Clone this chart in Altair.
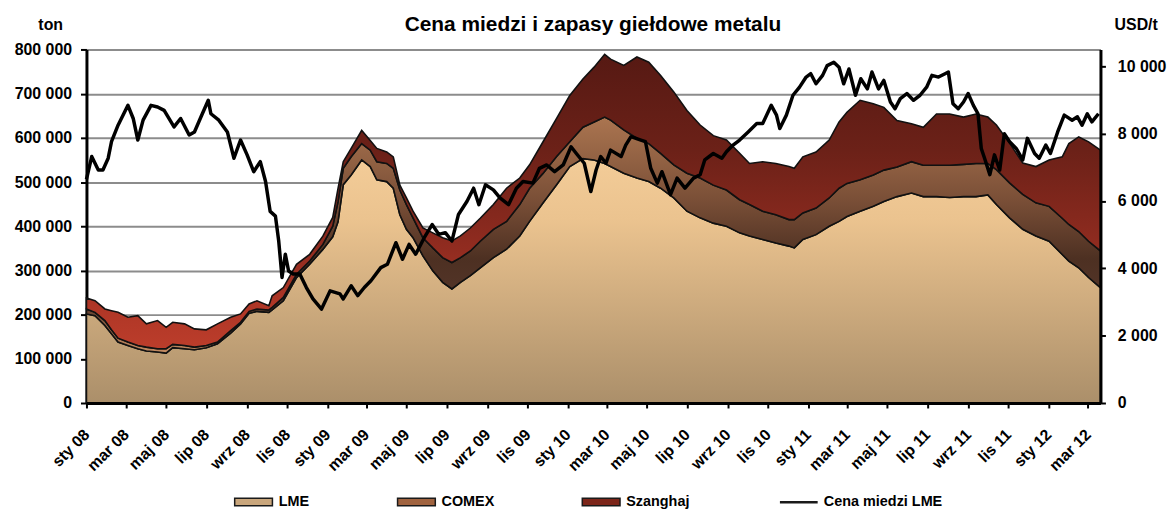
import altair as alt
import pandas as pd

FONT = "Liberation Sans"
START = pd.Timestamp("2008-01-01")

# ---- stocks (tonnes), x as days since 2008-01-01 ----
stock_days = [0, 13, 28, 38, 48, 63, 78, 91, 108, 121,
              131, 149, 164, 182, 199, 219, 234, 247, 259, 277,
              282, 299, 319, 339, 359, 374, 382, 390, 402, 418,
              431, 441, 456, 466, 476, 486, 496, 511, 526, 541,
              555, 568, 583, 598, 618, 638, 658, 673, 693, 714,
              734, 754, 771, 787, 796, 816, 836, 854, 872, 892,
              912, 932, 952, 972, 992, 1007, 1027, 1047, 1067, 1075,
              1088, 1108, 1128, 1143, 1155, 1175, 1195, 1211, 1231, 1253,
              1271, 1291, 1311, 1332, 1351, 1369, 1382, 1402, 1422, 1442,
              1462, 1482, 1492, 1507, 1522, 1540]
lme_stock = [201600, 197700, 175300, 156600, 137800, 130300, 122900, 117500, 115300, 113000,
             125200, 122900, 120600, 125200, 134100, 158000, 179100, 202900, 207400, 205200,
             210500, 231400, 283800, 313900, 347600, 376000, 410000, 494000, 516000, 550000,
             535000, 505000, 501000, 486000, 426000, 393000, 374000, 333000, 299000, 273000,
             258000, 273000, 288000, 306000, 329000, 348000, 378000, 411000, 452000, 494000,
             535000, 553000, 550000, 542000, 535000, 520000, 509000, 501000, 486000, 464000,
             434000, 419000, 407000, 400000, 385000, 378000, 370000, 362000, 355000, 351000,
             370000, 381000, 400000, 411000, 422000, 434000, 445000, 456000, 467000, 475000,
             467000, 467000, 465000, 467000, 467000, 471000, 449000, 419000, 393000, 378000,
             366000, 336000, 321000, 306000, 284000, 261000]
comex_stock = [11200, 7500, 11200, 9000, 8900, 7500, 7400, 9000, 7600, 9900,
               7400, 7400, 5900, 5100, 3700, 6000, 3600, 4500, 5400, 5300,
               5900, 7500, 7600, 7400, 11300, 24000, 45000, 37000, 41000, 37000,
               37000, 41000, 41000, 45000, 56000, 56000, 45000, 41000, 52000, 56000,
               60000, 56000, 56000, 60000, 64000, 63000, 71000, 75000, 67000, 64000,
               56000, 71000, 86000, 105000, 105000, 98000, 90000, 86000, 79000, 75000,
               86000, 90000, 86000, 82000, 75000, 71000, 64000, 64000, 60000, 64000,
               60000, 60000, 64000, 75000, 75000, 71000, 71000, 71000, 67000, 71000,
               71000, 71000, 73000, 73000, 75000, 71000, 79000, 79000, 79000, 75000,
               79000, 82000, 83000, 82000, 82000, 83000]
shfe_stock = [24700, 26200, 26300, 43400, 58500, 56200, 67400, 52600, 63600, 48500,
              50100, 48800, 41300, 35300, 41300, 30000, 18900, 16600, 18600, 9700,
              26300, 22400, 22500, 15100, 18600, 20000, 30000, 15000, 19000, 30000,
              22000, 30000, 26000, 26000, 11000, 15000, 15000, 22000, 34000, 45000,
              49000, 49000, 52000, 52000, 56000, 75000, 60000, 53000, 71000, 86000,
              105000, 109000, 124000, 142000, 138000, 146000, 184000, 184000, 176000, 165000,
              142000, 120000, 112000, 113000, 105000, 93000, 112000, 116000, 120000, 116000,
              127000, 127000, 131000, 150000, 161000, 180000, 161000, 142000, 105000, 86000,
              86000, 116000, 116000, 107000, 112000, 105000, 101000, 90000, 71000, 82000,
              105000, 139000, 183000, 214000, 225000, 228000]

# ---- LME copper price (USD/t) ----
price_days = [0, 8, 18, 25, 33, 38, 48, 63, 71, 78,
              86, 98, 108, 118, 133, 143, 156, 164, 174, 185,
              189, 201, 214, 224, 234, 244, 254, 264, 272, 279,
              287, 292, 297, 302, 307, 314, 324, 334, 344, 357,
              370, 385, 390, 402, 412, 422, 432, 447, 457, 470,
              480, 490, 500, 513, 525, 535, 545, 555, 565, 578,
              588, 596, 606, 618, 628, 641, 653, 663, 678, 688,
              699, 711, 724, 736, 744, 756, 766, 774, 781, 789,
              796, 812, 819, 827, 842, 849, 857, 867, 874, 887,
              897, 909, 922, 932, 939, 952, 965, 972, 982, 992,
              1005, 1018, 1027, 1040, 1048, 1053, 1063, 1073, 1083, 1093,
              1100, 1108, 1118, 1125, 1135, 1143, 1150, 1158, 1168, 1176,
              1186, 1193, 1203, 1211, 1221, 1228, 1236, 1246, 1256, 1266,
              1276, 1284, 1294, 1304, 1309, 1316, 1324, 1332, 1339, 1347,
              1354, 1359, 1364, 1372, 1379, 1387, 1394, 1402, 1412, 1422,
              1429, 1440, 1447, 1457, 1464, 1475, 1485, 1497, 1505, 1512,
              1520, 1527, 1537]
price_usd = [6640, 7320, 6920, 6920, 7270, 7760, 8250, 8840, 8450, 7810,
             8400, 8840, 8790, 8690, 8200, 8450, 7960, 8050, 8500, 8990,
             8590, 8400, 8050, 7270, 7810, 7370, 6870, 7170, 6580, 5690,
             5550, 4810, 3730, 4420, 3920, 3830, 3830, 3430, 3090, 2790,
             3330, 3240, 3090, 3480, 3190, 3430, 3630, 4020, 4120, 4760,
             4270, 4710, 4420, 4910, 5300, 5010, 5060, 4810, 5600, 5990,
             6380, 5890, 6480, 6330, 6090, 5890, 6380, 6580, 6530, 6970,
             7070, 6870, 7070, 7610, 7410, 7120, 6280, 6920, 7320, 7120,
             7510, 7320, 7660, 7910, 7810, 7760, 6970, 6530, 6870, 6190,
             6680, 6380, 6680, 6780, 7220, 7410, 7270, 7460, 7660, 7810,
             8050, 8300, 8300, 8840, 8550, 8150, 8550, 9140, 9380, 9680,
             9780, 9480, 9730, 10020, 10120, 9970, 9480, 9920, 9140, 9630,
             9330, 9830, 9330, 9580, 8940, 8740, 9040, 9190, 8990, 9140,
             9380, 9730, 9680, 9780, 9830, 8890, 8740, 8940, 9190, 8840,
             8590, 7560, 7270, 6780, 7370, 6920, 8000, 7760, 7560, 7220,
             7860, 7410, 7270, 7660, 7410, 8050, 8550, 8400, 8500, 8250,
             8590, 8350, 8590]

series_names = ["LME", "COMEX", "Szanghaj", "Cena miedzi LME"]
legend_colors = ["#c9a67c", "#a0633f", "#7c2519", "#000000"]
month_abbr = ["sty", "lut", "mar", "kwi", "maj", "cze", "lip", "sie", "wrz", "paź", "lis", "gru"]
left_ticks = [0, 100000, 200000, 300000, 400000, 500000, 600000, 700000, 800000]
right_ticks = [0, 2000, 4000, 6000, 8000, 10000]

# ---- tables ----
stocks = pd.DataFrame({
    "date": START + pd.to_timedelta(stock_days, unit="D"),
    "lme": lme_stock, "comex": comex_stock, "shfe": shfe_stock,
})
stocks["zero"] = 0
stocks["lme_top"] = stocks["lme"]
stocks["comex_top"] = stocks["lme"] + stocks["comex"]
stocks["total"] = stocks["comex_top"] + stocks["shfe"]

prices = pd.DataFrame({"date": START + pd.to_timedelta(price_days, unit="D"), "price": price_usd})
legend_df = pd.DataFrame({"series": series_names, "date": [START] * 4, "v": [0] * 4})
one = pd.DataFrame({"a": [0]})

# ---- axes / scales ----
AX = 16
month_js = "[" + ",".join("'%s'" % m for m in month_abbr) + "]"
x_label_expr = month_js + "[month(datum.value)] + ' ' + timeFormat(datum.value, '%y')"
num_label_expr = "datum.value == 0 ? '0' : format(floor(datum.value / 1000), 'd') + ' 000'"

x_tick_vals = [alt.DateTime(year=2008 + m // 12, month=m % 12 + 1, date=1) for m in range(0, 51, 2)]
x_scale = alt.Scale(domain=[alt.DateTime(year=2008, month=1, date=1),
                            alt.DateTime(year=2012, month=3, date=20)], nice=False)
x_axis = alt.Axis(values=x_tick_vals, labelExpr=x_label_expr, labelAngle=-45,
                  labelAlign="right", labelBaseline="middle", labelPadding=24,
                  labelFlush=False, labelOverlap=False, labelBound=False,
                  tickSize=5, tickWidth=2, tickColor="black",
                  domainColor="black", domainWidth=3, grid=False, zindex=2,
                  labelFont=FONT, labelFontSize=AX, labelFontWeight="bold",
                  labelColor="black", title=None)
x_enc = alt.X("date:T", scale=x_scale, axis=x_axis, title=None)

y_scale = alt.Scale(domain=[0, 800000], nice=False)
y_axis = alt.Axis(values=left_ticks, labelExpr=num_label_expr, grid=True,
                  gridColor="#8c8c8c", gridWidth=2, tickSize=6, tickWidth=2,
                  tickColor="black", domainColor="black", domainWidth=3,
                  labelFont=FONT, labelFontSize=AX, labelFontWeight="bold",
                  labelColor="black", labelPadding=9, title=None)

p_scale = alt.Scale(domain=[0, 10500], nice=False)
p_axis = alt.Axis(orient="right", values=right_ticks, labelExpr=num_label_expr,
                  grid=False, tickSize=5, tickWidth=2, tickColor="black",
                  domainColor="black", domainWidth=3, zindex=2,
                  labelFont=FONT, labelFontSize=AX, labelFontWeight="bold",
                  labelColor="black", labelPadding=12, title=None)


def grad(stops):
    return alt.LinearGradient(gradient="linear", x1=0, x2=0, y1=0, y2=1,
                              stops=[alt.GradientStop(color=c, offset=o) for o, c in stops])


lme_fill = grad([(0, "#f3cc98"), (0.25, "#ebc38f"), (1, "#ab8f6a")])
comex_fill = grad([(0, "#ab7550"), (0.35, "#7a4f37"), (0.6, "#4d3022"),
                   (0.8, "#55362a"), (0.9, "#9a6a48"), (1, "#c48c63")])
shfe_fill = grad([(0, "#561913"), (0.33, "#6c2118"), (0.67, "#922c20"),
                  (0.85, "#ae3626"), (1, "#bc3d2b")])

base = alt.Chart(stocks)
lme_area = base.mark_area(fill=lme_fill, stroke="#111111", strokeWidth=1.6).encode(
    x=x_enc, y=alt.Y("lme_top:Q", scale=y_scale, axis=y_axis, title=None), y2="zero:Q")
comex_area = base.mark_area(fill=comex_fill, stroke="#111111", strokeWidth=1.6).encode(
    x=x_enc, y=alt.Y("comex_top:Q", scale=y_scale, axis=y_axis, title=None), y2="lme_top:Q")
shfe_area = base.mark_area(fill=shfe_fill, stroke="#111111", strokeWidth=1.6).encode(
    x=x_enc, y=alt.Y("total:Q", scale=y_scale, axis=y_axis, title=None), y2="comex_top:Q")

rect_path = "M-1,-0.2L1,-0.2L1,0.2L-1,0.2Z"
line_key = series_names[3]
legend = alt.Legend(
    title=None, orient="none", legendX=161, legendY=448, direction="horizontal",
    columnPadding=85, padding=0, symbolSize=1444,
    symbolType={"expr": "datum.value === '%s' ? 'M-1,0L1,0' : '%s'" % (line_key, rect_path)},
    symbolStrokeColor="#1a1a1a",
    symbolStrokeWidth={"expr": "datum.value === '%s' ? 2.5 : 1.5" % line_key},
    symbolOpacity=1,
    labelFont=FONT, labelFontSize=14.5, labelFontWeight="bold", labelColor="black",
    labelOffset=18,
)
legend_layer = alt.Chart(legend_df).mark_point(filled=True, size=0, opacity=0).encode(
    x=x_enc, y=alt.Y("v:Q", scale=y_scale, axis=y_axis, title=None),
    color=alt.Color("series:N", scale=alt.Scale(domain=series_names, range=legend_colors),
                    legend=legend))

stock_layer = alt.layer(lme_area, comex_area, shfe_area, legend_layer)

price_layer = alt.Chart(prices).mark_line(color="black", strokeWidth=3.5, strokeJoin="round").encode(
    x=x_enc, y=alt.Y("price:Q", scale=p_scale, axis=p_axis, title=None))


def label(text, x, y, size):
    return alt.Chart(one).mark_text(text=text, font=FONT, fontSize=size, fontWeight="bold",
                                    color="black", align="center", baseline="middle").encode(
        x=alt.value(x), y=alt.value(y))


title_t = label("Cena miedzi i zapasy giełdowe metalu", 510, -25, 21)
ton_t = label("ton", -36, -25, 16)
usd_t = label("USD/t", 1057, -25, 16)

chart = alt.layer(stock_layer, price_layer, title_t, ton_t, usd_t).resolve_scale(
    y="independent"
).properties(
    width=1021, height=356,
    autosize=alt.AutoSizeParams(type="none"),
    padding={"left": 79, "top": 40, "right": 67, "bottom": 108},
).configure_view(stroke=None)

chart.save("out.html", embed_options={"renderer": "svg", "actions": False})
